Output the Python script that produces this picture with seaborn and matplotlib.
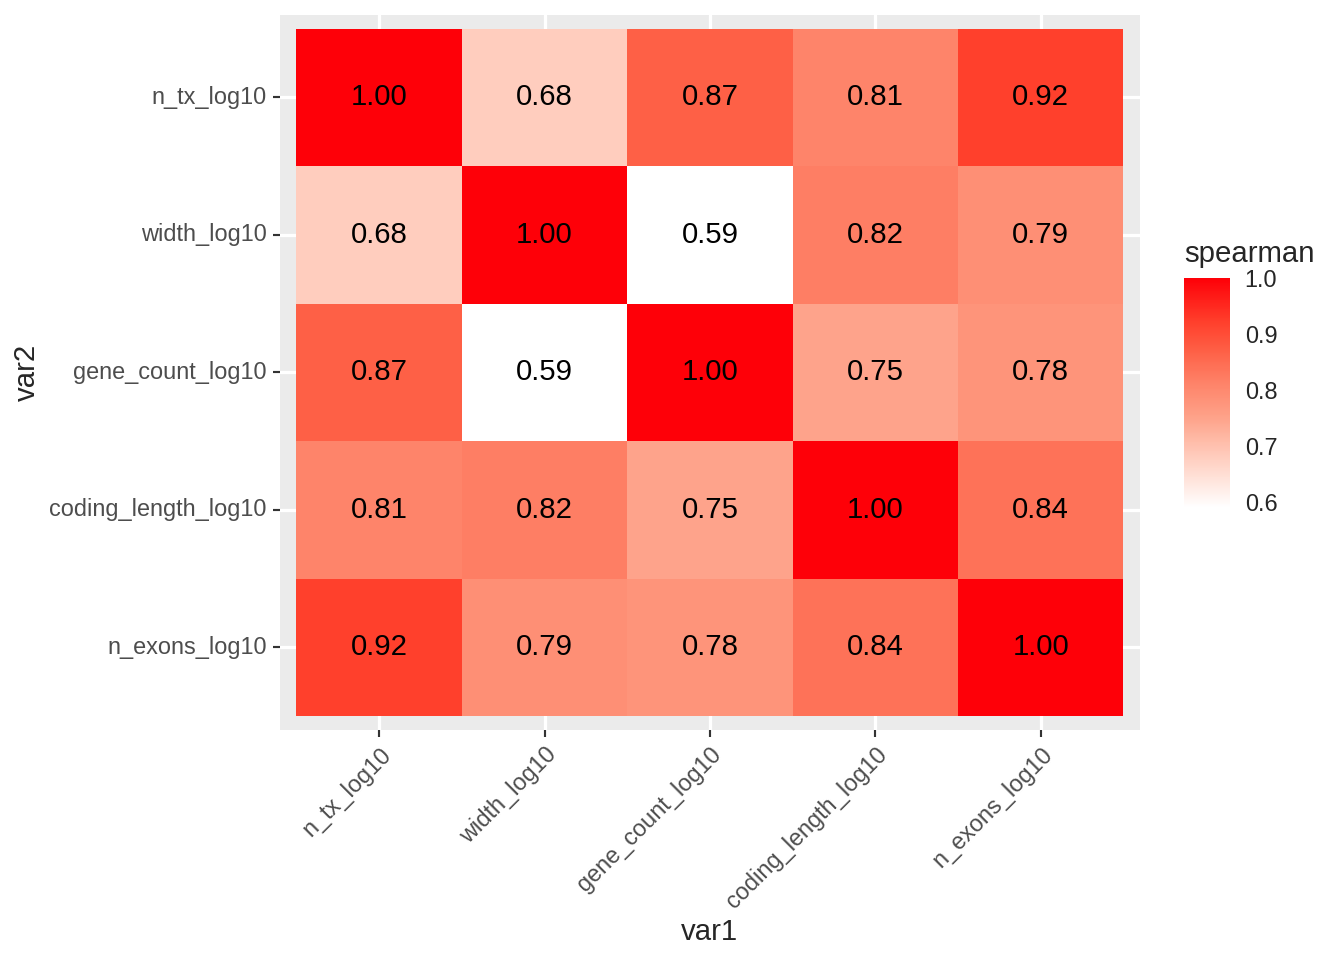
import numpy as np
import pandas as pd
import matplotlib
matplotlib.use("Agg")
import matplotlib.pyplot as plt
from matplotlib.colors import LinearSegmentedColormap
import seaborn as sns

# data
var_names = ["n_tx_log10", "width_log10", "gene_count_log10",
             "coding_length_log10", "n_exons_log10"]
row_n_tx = [1.00, 0.68, 0.87, 0.81, 0.92]
row_width = [0.68, 1.00, 0.59, 0.82, 0.79]
row_gene_count = [0.87, 0.59, 1.00, 0.75, 0.78]
row_coding_length = [0.81, 0.82, 0.75, 1.00, 0.84]
row_n_exons = [0.92, 0.79, 0.78, 0.84, 1.00]
legend_ticks = [0.6, 0.7, 0.8, 0.9, 1.0]

corr = pd.DataFrame([row_n_tx, row_width, row_gene_count, row_coding_length, row_n_exons],
                    index=var_names, columns=var_names)

vmin = corr.values.min()
vmax = corr.values.max()

# white -> red gradient, colour stops picked off the reference legend
stop_vals = [0.59, 0.68, 0.75, 0.81, 0.87, 0.92, 1.00]
stop_cols = ["#FFFFFF", "#FFCDBE", "#FEA38A", "#FE846A", "#FE6046", "#FF412D", "#FE0008"]
cmap = LinearSegmentedColormap.from_list(
    "spearman", [((v - vmin) / (vmax - vmin), c) for v, c in zip(stop_vals, stop_cols)])

sns.set_style("white")
plt.rcParams["font.family"] = ["Liberation Sans", "DejaVu Sans"]

fig = plt.figure(figsize=(7, 5), dpi=192)
ax = fig.add_axes([0.2083, 0.2396, 0.6399, 0.7448])
cax = fig.add_axes([0.881, 0.4708, 0.0342, 0.2396])

sns.heatmap(corr, ax=ax, cmap=cmap, vmin=vmin, vmax=vmax, annot=True, fmt=".2f",
            annot_kws={"size": 11, "color": "black"}, cbar_ax=cax,
            cbar_kws={"ticks": legend_ticks})

ax.set_facecolor("#EBEBEB")
ax.set_xlim(-0.1, 5.1)
ax.set_ylim(5.1, -0.1)
ax.set_axisbelow(True)
ax.grid(True, color="white", linewidth=1.2)
for s in ax.spines.values():
    s.set_visible(False)

ax.tick_params(axis="both", length=2.75, width=0.8, color="#333333",
               labelsize=8.8, labelcolor="#4D4D4D", pad=2.2,
               bottom=True, left=True)
ax.set_xticklabels(var_names, rotation=45, ha="right", rotation_mode="anchor")
ax.set_yticklabels(var_names, rotation=0)
ax.set_xlabel("var1", fontsize=11, labelpad=2)
ax.set_ylabel("var2", fontsize=11, labelpad=3)

cbar = ax.collections[0].colorbar
cbar.outline.set_visible(False)
cax.tick_params(axis="y", direction="in", length=3.4, width=0.6, color="white",
                left=True, right=True, labelleft=False, labelright=True,
                labelsize=8.8, pad=5.5)
cax.set_yticklabels(["0.6", "0.7", "0.8", "0.9", "1.0"])
cax.set_title("spearman", fontsize=11, loc="left", pad=6)

fig.savefig("out.png", dpi=192)
